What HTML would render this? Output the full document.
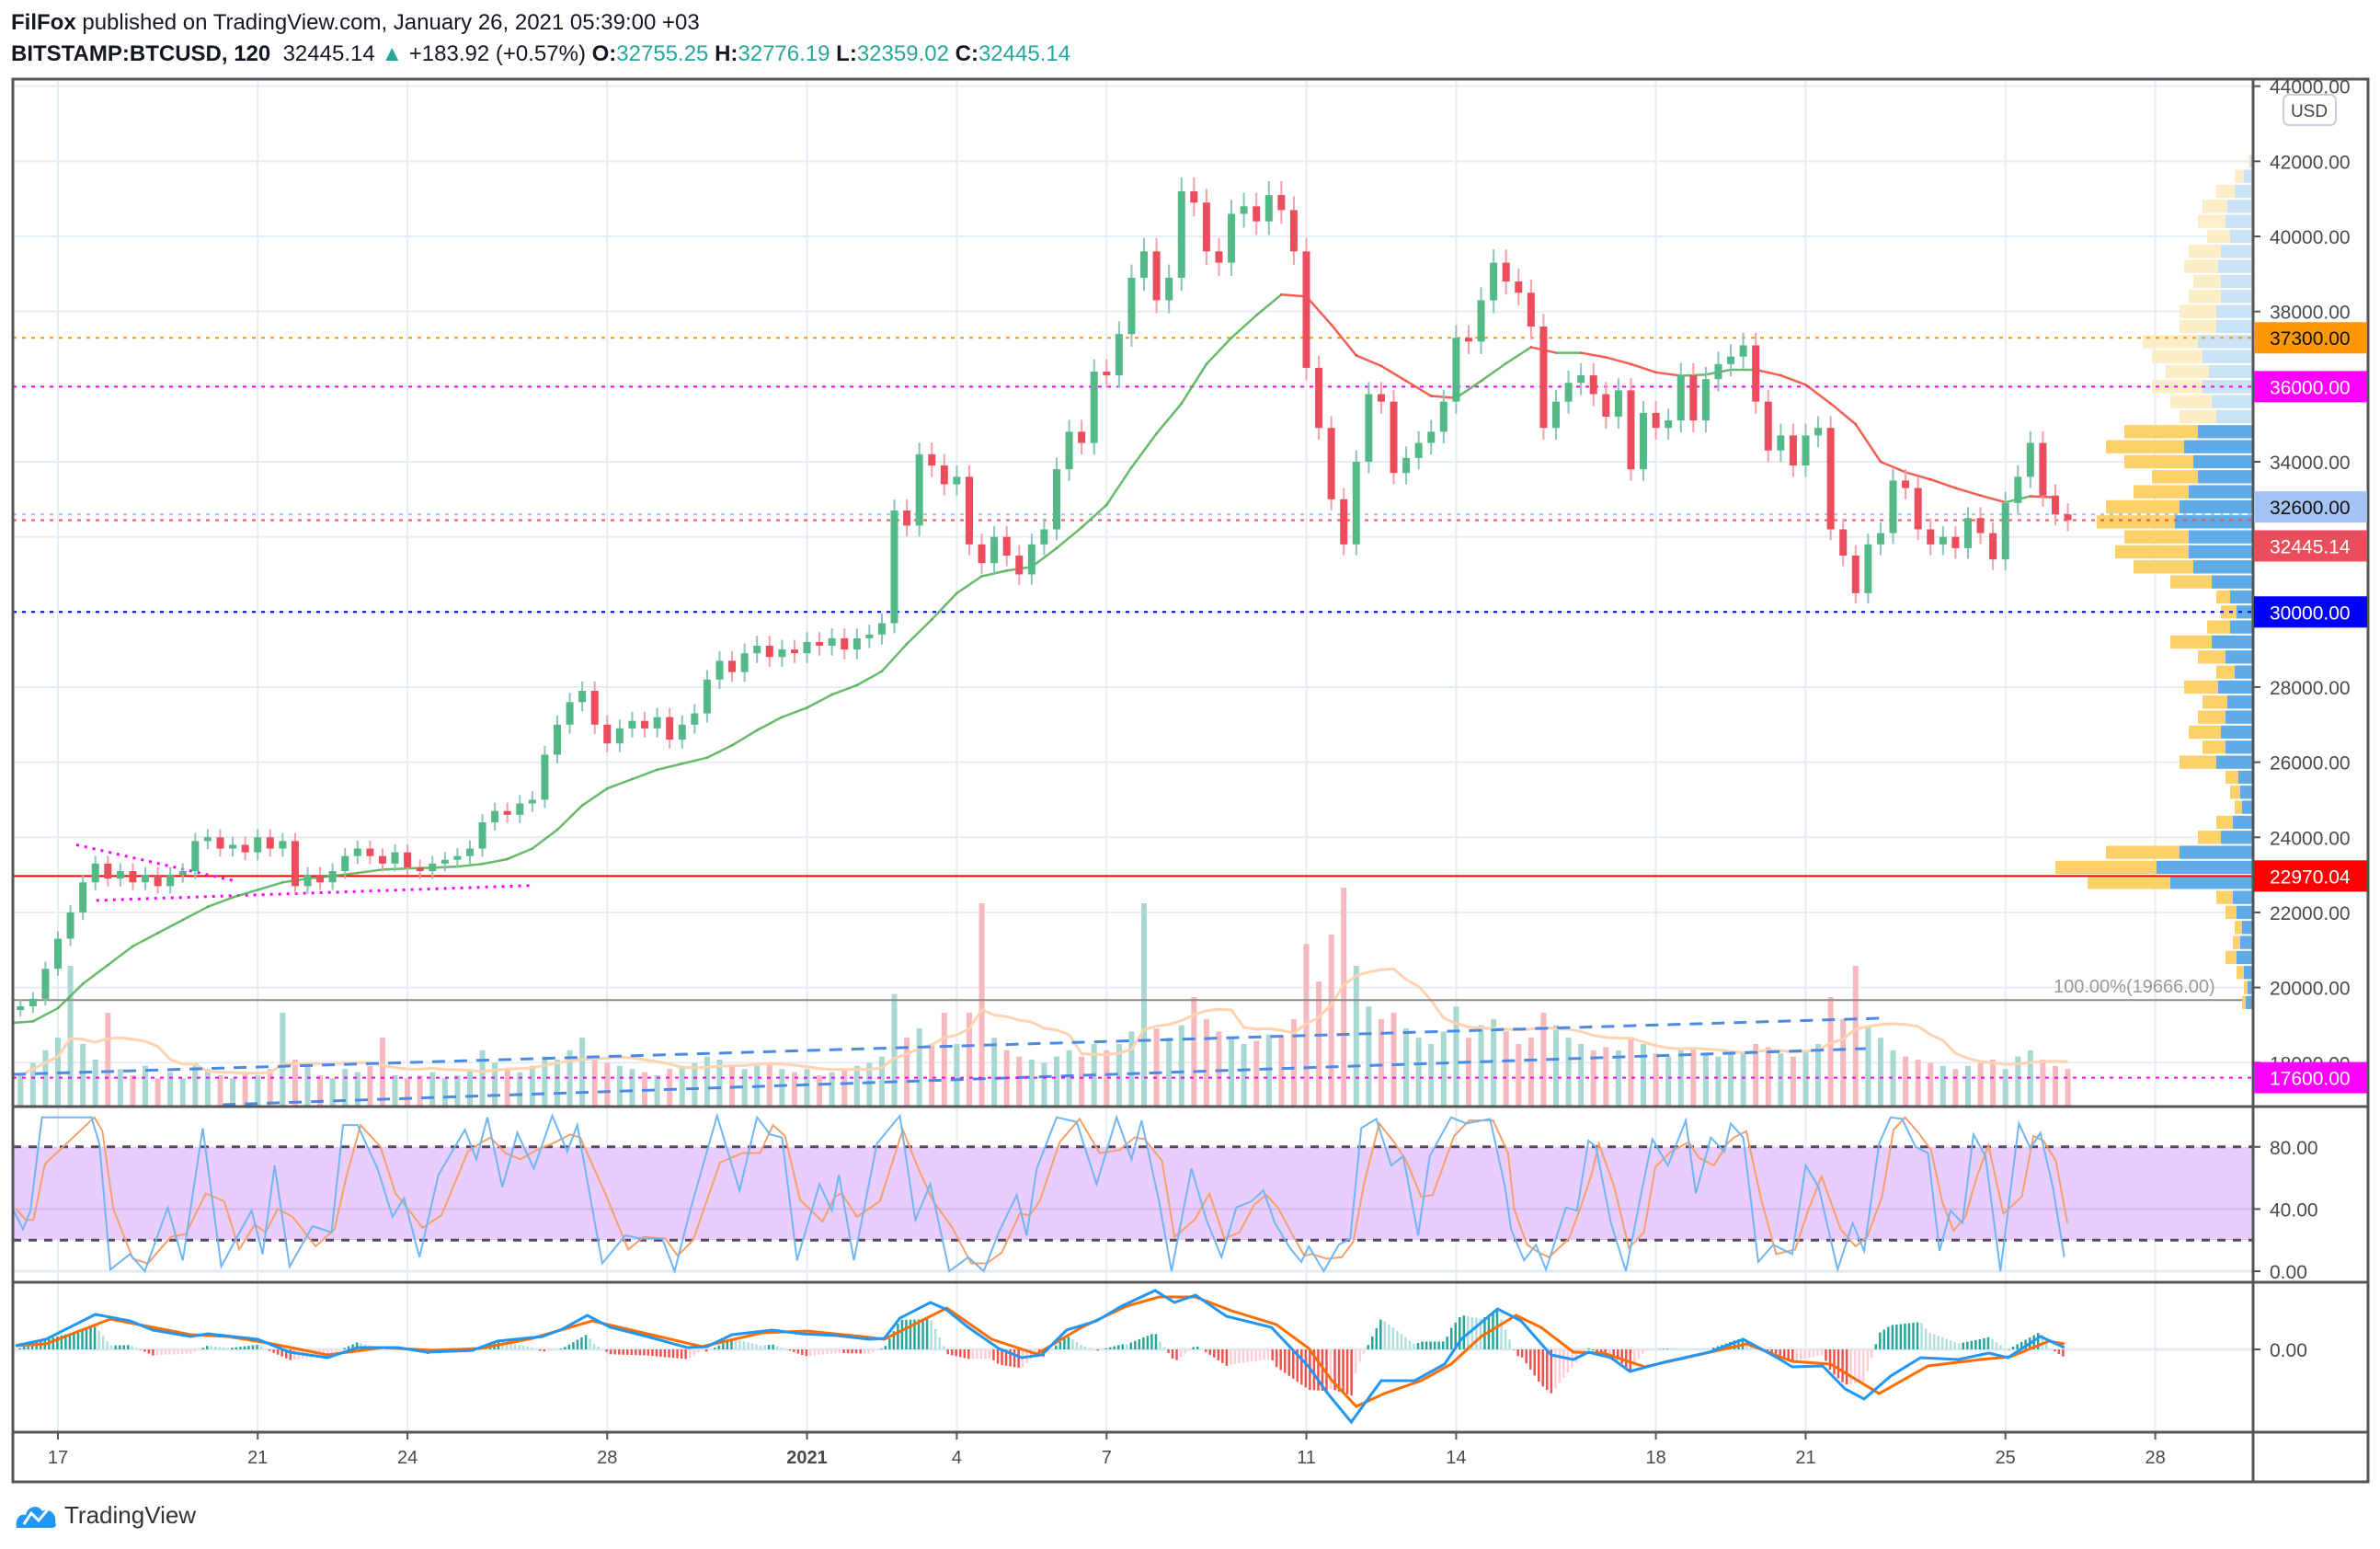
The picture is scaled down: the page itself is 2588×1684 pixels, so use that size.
<!DOCTYPE html>
<html><head><meta charset="utf-8">
<style>
body{margin:0;background:#fff;width:2588px;height:1684px;overflow:hidden;position:relative;font-family:"Liberation Sans",sans-serif}
.hdr{position:absolute;left:12px;font-size:24px;color:#131722;white-space:nowrap;line-height:30px}
.g{color:#26a69a}
</style></head>
<body>
<svg id="c" width="2588" height="1684" style="position:absolute;left:0;top:0" xmlns="http://www.w3.org/2000/svg"></svg>
<div class="hdr" style="top:10px"><b>FilFox</b> published on TradingView.com, January 26, 2021 05:39:00 +03</div>
<div class="hdr" style="top:44px"><b>BITSTAMP:BTCUSD, 120</b>&nbsp; 32445.14 <span class="g">▲</span> +183.92 (+0.57%) <b>O:</b><span class="g">32755.25</span> <b>H:</b><span class="g">32776.19</span> <b>L:</b><span class="g">32359.02</span> <b>C:</b><span class="g">32445.14</span></div>
<div style="position:absolute;left:16px;top:1630px;height:34px;display:flex;align-items:center">
<svg width="48" height="32"><path d="M2 30 C0 20 6 14 12 16 C14 6 26 4 30 12 C36 8 46 14 44 24 C46 28 44 30 40 30 Z" fill="#2196f3"/><polyline points="10,26 18,14 26,22 36,10" stroke="#fff" stroke-width="3" fill="none"/></svg>
<span style="font-size:26px;color:#333;margin-left:6px">TradingView</span></div>
<script>
// ---------- data ----------
const candleStartDay = -0.75, candleStep = 0.25;
const closes = [19500,19700,20500,21300,22000,22800,23300,22900,23100,22800,23000,22700,23000,23100,23900,24000,23700,23800,23600,24000,23700,23900,22700,23000,22800,23100,23500,23700,23500,23300,23600,23200,23100,23300,23400,23500,23700,24400,24700,24600,24900,25000,26200,27000,27600,27900,27000,26500,26900,27100,26900,27200,26600,27000,27300,28200,28700,28400,28900,29100,28800,29000,28900,29200,29100,29300,29000,29300,29400,29700,32700,32300,34200,33900,33400,33600,31800,31300,32000,31500,31000,31800,32200,33800,34800,34500,36400,36300,37400,38900,39600,38300,38900,41200,40900,39600,39300,40600,40800,40400,41100,40700,39600,36500,34900,33000,31800,34000,35800,35600,33700,34100,34500,34800,35600,37300,37200,38300,39300,38800,38500,37600,34900,35600,36100,36300,35800,35200,35900,33800,35300,34900,35100,36300,35100,36200,36600,36800,37100,35600,34300,34700,33900,34700,34900,32200,31500,30500,31800,32100,33500,33300,32200,31800,32000,31700,32500,32100,31400,32900,33600,34500,33100,32600,32445];
const firstOpen = 19400;
const volumes = [1.0,1.4,1.8,2.2, 4.5,2.0,1.5,3.0, 1.2,1.0,1.3,0.9, 1.1,0.9,1.4,1.2, 1.0,0.9,1.1,1.0, 1.2,3.0,1.5,1.3, 1.0,0.9,1.2,1.1, 1.3,2.2,1.0,0.9, 1.0,1.1,0.9,1.0, 1.2,1.8,1.4,1.2, 1.1,1.3,1.6,1.5, 1.8,2.2,1.5,1.4, 1.3,1.2,1.1,1.0, 1.2,1.3,1.4,1.6, 1.5,1.3,1.2,1.3, 1.4,1.2,1.1,1.2, 1.0,1.1,1.2,1.3, 1.4,1.6,3.6,2.2, 2.5,2.0,3.0,2.0, 3.0,6.5,2.2,1.8, 1.6,1.5,1.4,1.6, 1.8,1.6,2.0,1.8, 2.0,2.4,6.5,2.5, 2.2,2.6,3.5,2.8, 2.4,2.2,2.0,2.1, 2.3,2.2,2.8,5.2, 4.0,5.5,7.0,4.5, 3.2,2.8,3.0,2.5, 2.2,2.0,2.4,3.2, 2.2,2.6,2.8,2.4, 2.0,2.2,3.0,2.6, 2.2,2.0,1.8,1.9, 1.8,2.2,2.0,1.7, 1.6,1.8,1.9,1.7, 1.6,1.8,1.7,2.0, 1.9,1.7,1.6,1.8, 2.0,3.5,2.8,4.5, 2.6,2.2,1.8,1.6, 1.5,1.4,1.3,1.2, 1.3,1.4,1.5,1.2, 1.6,1.8,1.5,1.3, 1.2];
const maStartDay = -1, maStep = 0.5;
const maValues = [19050,19100,19450,20100,20600,21100,21450,21800,22150,22400,22600,22800,22900,22970,23050,23140,23170,23190,23220,23290,23420,23700,24200,24850,25300,25550,25800,25960,26120,26450,26850,27200,27450,27800,28050,28420,29150,29800,30500,30950,31100,31200,31700,32250,32850,33850,34750,35550,36600,37300,37900,38450,38400,37650,36830,36550,36150,35750,35700,36150,36620,37050,36900,36900,36780,36600,36380,36290,36320,36450,36450,36300,36050,35550,35000,34000,33720,33530,33300,33100,32920,33080,33050];
const rsiDays = [-0.9,-0.7,-0.55,-0.32,0.67,0.83,1.05,1.44,1.74,2.2,2.5,2.9,3.27,3.57,3.88,4.1,4.34,4.64,5.1,5.48,5.71,6.0,6.4,6.7,6.93,7.24,7.62,8.15,8.38,8.6,8.9,9.2,9.53,9.9,10.2,10.4,10.9,11.36,11.67,12.1,12.35,12.66,13.2,13.65,14.0,14.26,14.5,14.8,15.25,15.5,15.64,15.94,16.4,16.86,17.17,17.47,17.85,18.23,18.54,18.84,19.2,19.4,19.6,20.0,20.4,20.8,21.2,21.5,21.7,22.05,22.3,22.7,23.0,23.3,23.6,23.9,24.14,24.37,24.67,24.9,25.05,25.35,25.65,25.88,26.1,26.4,26.7,26.94,27.24,27.47,27.9,28.2,28.68,28.98,29.1,29.36,29.6,29.8,30.2,30.42,30.65,30.8,31.1,31.4,31.7,31.93,32.24,32.6,32.8,33.1,33.37,33.5,33.75,34.05,34.35,34.73,35.0,35.26,35.64,35.94,36.17,36.47,36.7,36.93,37.2,37.45,37.68,37.9,38.14,38.36,38.6,38.9,39.27,39.5,39.7,39.95,40.18];
const rsiK = [40,27,39,99,99,82,1,11,0,41,7,92,3,21,39,11,68,3,29,25,94,94,66,35,47,9,62,91,72,99,54,89,66,100,77,94,5,23,21,21,0,39,100,52,99,88,86,7,56,39,62,7,82,100,33,56,0,9,0,25,49,23,66,99,96,56,99,72,97,45,0,66,33,9,41,45,52,31,15,6,16,0,17,21,92,98,68,74,23,74,99,95,98,54,27,7,17,1,41,39,84,80,31,0,49,85,68,97,50,86,77,95,86,6,17,11,68,54,1,31,13,82,99,98,80,76,13,39,31,88,74,0,95,79,89,54,9];
const rsiD = [40,33,33,69,99,90,40,8,5,22,24,50,45,14,30,25,40,35,16,27,60,94,80,50,41,28,36,77,82,86,76,72,78,83,88,86,50,14,22,21,10,20,70,76,76,94,87,46,32,48,50,35,45,91,66,45,28,5,5,12,37,36,45,83,98,76,78,86,85,71,22,33,50,21,25,43,49,41,23,10,11,8,9,19,57,95,83,71,48,49,87,97,97,76,40,17,12,9,21,40,62,82,55,15,25,67,77,83,73,68,82,86,90,46,11,14,40,61,27,16,22,48,91,99,89,78,44,26,35,60,81,37,48,87,84,71,31];
const macdDays = [-0.85,-0.24,0.75,1.44,1.9,2.66,3.0,4.0,4.64,5.4,6.0,6.8,7.4,8.3,8.8,9.7,10.1,10.6,11.06,11.8,12.6,13.0,13.5,14.3,14.9,15.6,16.25,16.55,16.86,17.47,17.77,18.23,18.84,19.3,19.7,20.2,20.8,21.3,21.97,22.36,22.78,23.4,24.3,25.05,25.4,25.9,26.5,27.17,27.77,28.1,28.83,29.3,29.9,30.35,30.65,31.1,31.48,32.16,33.07,33.75,34.43,34.73,35.34,35.79,36.17,36.7,37.3,38.06,38.67,39.05,39.7,40.18];
const macdValues = [4,11,38,31,21,14,17,11,-3,-9,2,2,-3,-1,9,14,22,37,24,14,2,3,16,21,17,15,11,12,34,51,44,24,1,-9,-6,21,31,47,64,51,59,36,24,-19,-46,-79,-34,-34,-16,11,44,31,-6,-11,-3,-9,-24,-14,-3,11,-9,-19,-18,-43,-54,-29,-9,-11,-4,-9,14,2];
const signalDays = [-0.85,-0.24,1.05,1.9,2.66,3.4,4.2,5.4,6.5,7.5,8.45,9.5,10.7,11.8,12.9,14.1,15.0,16.1,16.55,17.8,18.7,19.6,20.5,21.4,22.05,22.78,23.5,24.4,25.05,25.5,26.0,26.56,27.3,27.9,28.5,29.2,29.7,30.35,30.95,31.78,32.6,33.82,34.73,35.5,36.47,37.45,38.5,39.1,39.87,40.18];
const signalValues = [4,6,33,24,16,14,7,-6,2,-1,1,12,31,17,3,18,20,14,11,45,11,-5,24,47,57,57,42,27,1,-33,-62,-48,-34,-16,14,37,24,-3,-4,-19,-9,6,-13,-16,-48,-18,-11,-8,9,6];
const profileLow = 19400, profileBin = 400;
const profileTotal = [12,10,18,30,22,20,30,40,180,215,160,60,40,20,25,30,80,55,70,60,55,75,40,60,90,50,35,40,90,130,150,140,170,160,130,110,140,160,140,80,90,110,95,110,120,80,80,70,65,75,70,50,60,55,40,20,5];
const profileUp = [8,6,10,18,14,12,18,22,90,105,80,35,22,12,14,16,40,30,35,30,28,38,20,30,45,25,18,25,45,65,70,70,85,80,70,60,65,75,60,40,45,55,48,55,60,40,40,35,35,38,35,25,30,28,20,10,3];
const priceTicks = [18000,20000,22000,24000,26000,28000,30000,32000,34000,36000,38000,40000,42000,44000];
const dayTicks = [0,4,7,11,15,18,21,25,28,32,35,39,42];
const dayTickLabels = ['17','21','24','28','2021','4','7','11','14','18','21','25','28'];
const rsiTicks = [0,40,80];
const levelPrices = [37300,36000,32600,32445.14,30000,22970.04,17600];

// ---------- layout ----------
const L=14, R=2450, MT=86, MB=1203, RT=1203, RB=1394, CT=1394, CB=1557, TB=1611, OUTR=2575;
const xD = d => 63 + d*54.3;
const yP = p => 257 + (40000-p)*0.04083;
const yR = v => 1382 - v*1.69;
const yM = v => 1467 - v;
const yV = v => MB - v*34;
const svg = document.getElementById('c');
const NS='http://www.w3.org/2000/svg';
function mk(tag, attrs, parent){const e=document.createElementNS(NS,tag);for(const k in attrs)e.setAttribute(k,attrs[k]);(parent||svg).appendChild(e);return e;}
function lerp(ds, vs, d){if(d<=ds[0])return vs[0];for(let i=1;i<ds.length;i++){if(d<=ds[i]){const t=(d-ds[i-1])/(ds[i]-ds[i-1]);return vs[i-1]+t*(vs[i]-vs[i-1]);}}return vs[vs.length-1];}

const defs=mk('defs',{});
[['cm',MT,MB],['cr',RT,RB],['cc',CT,CB]].forEach(a=>{const cp=mk('clipPath',{id:a[0]},defs);mk('rect',{x:L,y:a[1],width:R-L,height:a[2]-a[1]},cp);});

// grid
const grid=mk('g',{stroke:'#e6eef5','stroke-width':2});


dayTicks.forEach(d=>{const x=xD(d);[[MT,MB],[RT,RB],[CT,CB]].forEach(r=>{const ln=mk('line',{x1:x,x2:x,y1:r[0],y2:r[1]},grid);});});
priceTicks.forEach(p=>{const ln=mk('line',{x1:L,x2:R,y1:yP(p),y2:yP(p)},grid);});

// main pane
const main=mk('g',{'clip-path':'url(#cm)'});


const volG=mk('g',{},main);


const opens=closes.map((c,i)=>i?closes[i-1]:firstOpen);
volumes.forEach((v,i)=>{const d=candleStartDay+i*candleStep;const up=closes[i]>=opens[i];
 const b=mk('rect',{x:xD(d)-3,y:yV(v),width:6,height:MB-yV(v),fill:up?'#a9d8d3':'#f6b9bd'},volG);
 
 });
let vpts=[];for(let i=0;i<volumes.length;i++){const s=volumes.slice(Math.max(0,i-7),i+1);vpts.push(xD(candleStartDay+i*candleStep)+','+yV(s.reduce((a,b)=>a+b,0)/s.length));}
const vma=mk('polyline',{points:vpts.join(' '),fill:'none',stroke:'#ffd2b0','stroke-width':3},main);


const t1=mk('line',{x1:xD(-0.9),y1:1168,x2:xD(36.5),y2:1107,stroke:'#4a8ae6','stroke-width':3,'stroke-dasharray':'14 10'},main);


const t2=mk('line',{x1:xD(3.3),y1:1201,x2:xD(36.2),y2:1140,stroke:'#4a8ae6','stroke-width':3,'stroke-dasharray':'14 10'},main);


const hl=mk('line',{x1:L,x2:R,y1:yP(19666),y2:yP(19666),stroke:'#8c8c8c','stroke-width':2},main);


const hlt=mk('text',{x:2233,y:yP(19666)-8,'font-size':20,fill:'#999','font-family':'Liberation Sans, sans-serif'},main);
hlt.textContent='100.00%(19666.00)';



const vp=mk('g',{},main);


profileTotal.forEach((t,i)=>{const lo=profileLow+i*profileBin, hi=lo+profileBin;const y=yP(hi)+1, h=yP(lo)-yP(hi)-2;const faded=lo>=35000;
 const dn=mk('rect',{x:R-t,y:y,width:t-profileUp[i],height:h,fill:faded?'#fdeec8':'#fbd26a'},vp);
 
 
 const upb=mk('rect',{x:R-profileUp[i],y:y,width:profileUp[i],height:h,fill:faded?'#c9e2f6':'#5eabe8'},vp);
 
 });

const levelStyles=[['#ff9800','4 6'],['#ff00ff','4 6'],['#a4c2f4','4 6'],['#ef5350','4 6'],['#0000ff','4 6'],['#ff0000',''],['#ff00ff','4 6']];
levelPrices.forEach((p,i)=>{const ln=mk('line',{x1:L,x2:R,y1:yP(p),y2:yP(p),stroke:levelStyles[i][0],'stroke-width':2,'stroke-dasharray':levelStyles[i][1]},main);
 
 });
const tr1=mk('line',{x1:xD(0.37),y1:yP(23800),x2:xD(3.5),y2:yP(22850),stroke:'#ff00ff','stroke-width':3,'stroke-dasharray':'3 6'},main);


const tr2=mk('line',{x1:xD(0.77),y1:yP(22320),x2:xD(9.55),y2:yP(22720),stroke:'#ff00ff','stroke-width':3,'stroke-dasharray':'3 6'},main);



for(let i=1;i<maValues.length;i++){const d0=maStartDay+(i-1)*maStep,d1=maStartDay+i*maStep;
 const s=mk('line',{x1:xD(d0),y1:yP(maValues[i-1]),x2:xD(d1),y2:yP(maValues[i]),stroke:maValues[i]>=maValues[i-1]?'#4caf50':'#f44336','stroke-width':2.5,'stroke-linecap':'round','stroke-opacity':0.85},main);
 
 }

const cg=mk('g',{},main);


closes.forEach((c,i)=>{const o=opens[i];const d=candleStartDay+i*candleStep;const x=xD(d);const up=c>=o;
 const hi=Math.max(o,c)*1.009, lo=Math.min(o,c)*0.991;
 const w=mk('line',{x1:x,x2:x,y1:yP(hi),y2:yP(lo),stroke:up?'#8cc3bd':'#f4a0a8','stroke-width':2},cg);
 
 
 const top=yP(Math.max(o,c)),bot=yP(Math.min(o,c));
 const b=mk('rect',{x:x-4,y:top,width:8,height:Math.max(2,bot-top),fill:up?'#53b987':'#eb4d5c'},cg);
 
 });

// RSI pane
const rp=mk('g',{'clip-path':'url(#cr)'});


const band=mk('rect',{x:L,y:yR(80),width:R-L,height:yR(20)-yR(80),fill:'#e9cdfd'},rp);


const mid=mk('line',{x1:L,x2:R,y1:yR(40),y2:yR(40),stroke:'#d3b6ea','stroke-width':2},rp);


const zl=mk('line',{x1:L,x2:R,y1:yR(0),y2:yR(0),stroke:'#e0ebf3','stroke-width':3},rp);


[80,20].forEach(v=>{const l=mk('line',{x1:L,x2:R,y1:yR(v),y2:yR(v),stroke:'#5b4a66','stroke-width':3,'stroke-dasharray':'9 8'},rp);
 
 });
const dl=mk('polyline',{points:rsiDays.map((d,i)=>xD(d+0.06)+','+yR(rsiD[i])).join(' '),fill:'none',stroke:'#f5a06a','stroke-width':2},rp);


const kl=mk('polyline',{points:rsiDays.map((d,i)=>xD(d)+','+yR(rsiK[i])).join(' '),fill:'none',stroke:'#6fb6f5','stroke-width':2},rp);



// MACD pane
const mp=mk('g',{'clip-path':'url(#cc)'});


const mz=mk('line',{x1:L,x2:R,y1:yM(0),y2:yM(0),stroke:'#e0ebf3','stroke-width':3},mp);


let ph=0;
for(let d=-0.85;d<=40.18;d+=1/12){const h=(lerp(macdDays,macdValues,d)-lerp(signalDays,signalValues,d))*2.2;
 const col=h>=0?(h>=ph?'#26a69a':'#b2dfdb'):(h<=ph?'#ef5350':'#ffcdd2');
 const b=mk('rect',{x:xD(d)-1,y:Math.min(yM(0),yM(h)),width:2.5,height:Math.abs(h),fill:col},mp);
 
 
 ph=h;}
const sl=mk('polyline',{points:signalDays.map((d,i)=>xD(d)+','+yM(signalValues[i])).join(' '),fill:'none',stroke:'#ff6d00','stroke-width':3},mp);


const ml=mk('polyline',{points:macdDays.map((d,i)=>xD(d)+','+yM(macdValues[i])).join(' '),fill:'none',stroke:'#2196f3','stroke-width':3},mp);



// frame
const fr=mk('g',{stroke:'#555','stroke-width':3,fill:'none'});


mk('rect',{x:L,y:MT,width:OUTR-L,height:TB-MT},fr);
[MB,RB,CB].forEach(y=>mk('line',{x1:L,x2:OUTR,y1:y,y2:y},fr));
mk('line',{x1:R,x2:R,y1:MT,y2:TB},fr);

// axes
const ax=mk('g',{'font-family':'Liberation Sans, sans-serif','font-size':21,fill:'#4a4a4a'});


priceTicks.forEach(p=>{const y=yP(p);if(y<MT-4)return;
 mk('line',{x1:R,x2:R+8,y1:y,y2:y,stroke:'#555','stroke-width':2},ax);
 const t=mk('text',{x:2468,y:y+8},ax);t.textContent=p.toFixed(2);
 
 });
rsiTicks.forEach(v=>{mk('line',{x1:R,x2:R+8,y1:yR(v),y2:yR(v),stroke:'#555','stroke-width':2},ax);
 const t=mk('text',{x:2468,y:yR(v)+8},ax);t.textContent=v.toFixed(2);
 
 });
mk('line',{x1:R,x2:R+8,y1:yM(0),y2:yM(0),stroke:'#555','stroke-width':2},ax);
const mzt=mk('text',{x:2468,y:yM(0)+8},ax);mzt.textContent='0.00';


dayTicks.forEach((d,i)=>{const x=xD(d);mk('line',{x1:x,x2:x,y1:CB,y2:CB+8,stroke:'#555','stroke-width':2},ax);
 const t=mk('text',{x:x,y:1591,'text-anchor':'middle','font-size':20,'font-weight':dayTickLabels[i]==='2021'?'bold':'normal'},ax);t.textContent=dayTickLabels[i];
 
 });
const ub=mk('rect',{x:2483,y:103,width:57,height:33,rx:6,fill:'#fff',stroke:'#ccd','stroke-width':2});


const ut=mk('text',{x:2511,y:127,'text-anchor':'middle','font-size':19,fill:'#444','font-family':'Liberation Sans, sans-serif'});ut.textContent='USD';


const labBg=['#ff9800','#ff00ff','#a4c2f4','#ea4d5c','#0000ff','#ff0000','#ff00ff'];
const labFg=['#111','#fff','#111','#fff','#fff','#fff','#fff'];
const labOffset=[0,0,-8,28,0,0,0];
levelPrices.forEach((p,i)=>{const cy=yP(p)+labOffset[i];
 const r=mk('rect',{x:R+1,y:cy-17,width:OUTR-R-2,height:34,fill:labBg[i]});
 
 
 const t=mk('text',{x:2468,y:cy+8,'font-size':21,fill:labFg[i],'font-family':'Liberation Sans, sans-serif'});t.textContent=p.toFixed(2);
 
 });
</script>
</body></html>
